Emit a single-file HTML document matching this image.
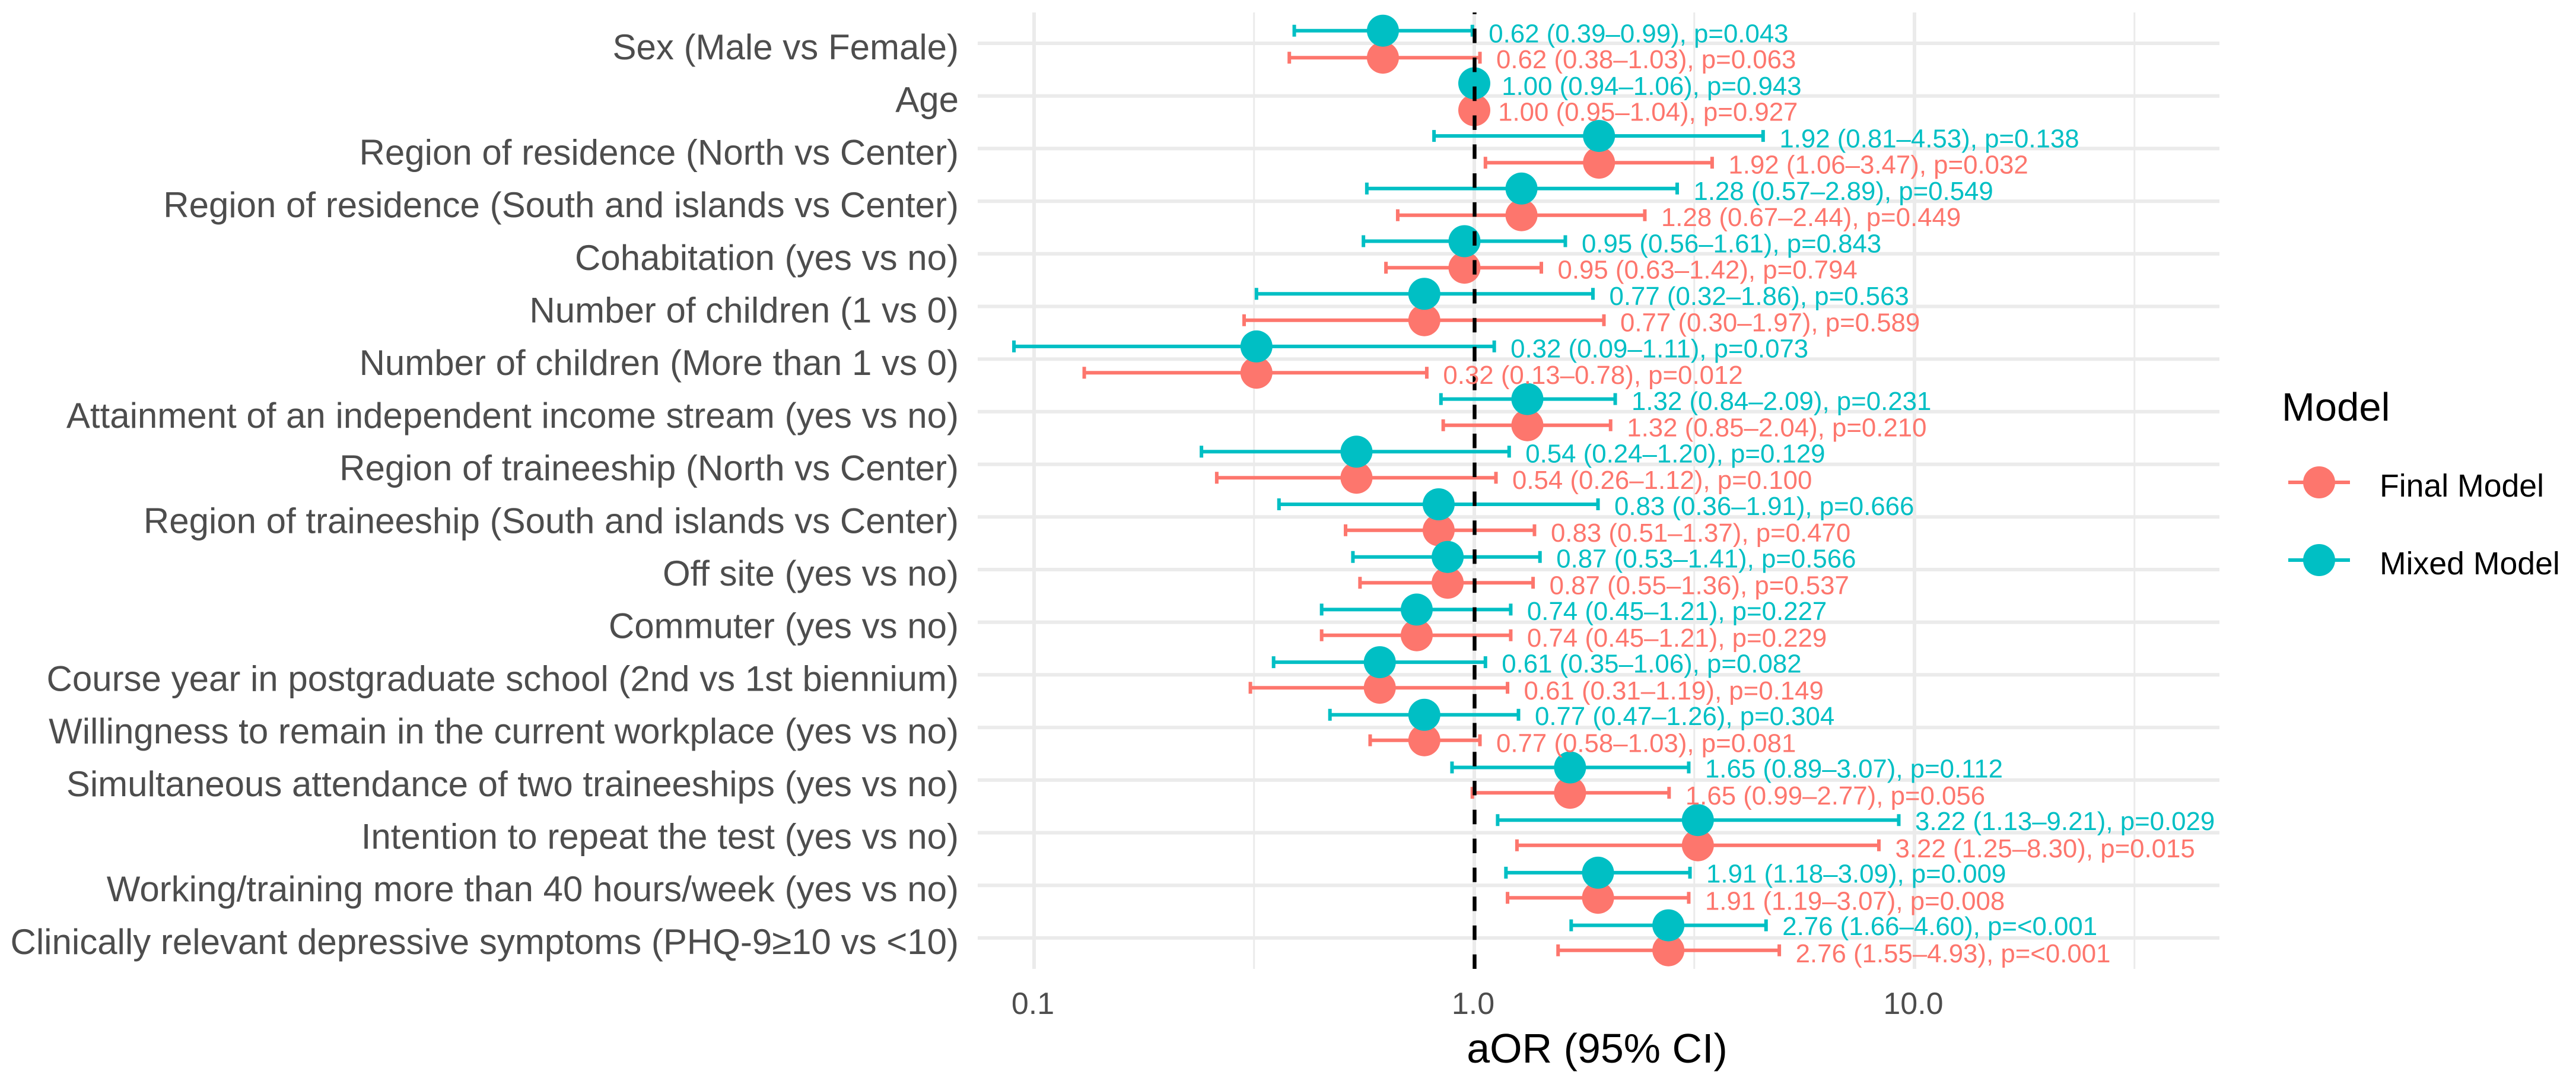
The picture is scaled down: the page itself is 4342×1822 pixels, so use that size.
<!DOCTYPE html>
<html lang="en">
<head>
<meta charset="utf-8">
<title>Forest plot of adjusted odds ratios</title>
<style>
html,body{margin:0;padding:0;background:#fff;width:4342px;height:1822px;overflow:hidden}
svg{display:block}
text{font-family:"Liberation Sans",Arial,sans-serif}
</style>
</head>
<body>
<svg id="chart" xmlns="http://www.w3.org/2000/svg" width="4342" height="1822" viewBox="0 0 4342 1822"></svg>
<script>
const categories = [
  'Sex (Male vs Female)',
  'Age',
  'Region of residence (North vs Center)',
  'Region of residence (South and islands vs Center)',
  'Cohabitation (yes vs no)',
  'Number of children (1 vs 0)',
  'Number of children (More than 1 vs 0)',
  'Attainment of an independent income stream (yes vs no)',
  'Region of traineeship (North vs Center)',
  'Region of traineeship (South and islands vs Center)',
  'Off site (yes vs no)',
  'Commuter (yes vs no)',
  'Course year in postgraduate school (2nd vs 1st biennium)',
  'Willingness to remain in the current workplace (yes vs no)',
  'Simultaneous attendance of two traineeships (yes vs no)',
  'Intention to repeat the test (yes vs no)',
  'Working/training more than 40 hours/week (yes vs no)',
  'Clinically relevant depressive symptoms (PHQ-9\u226510 vs <10)'
];
const mixedOR    = [0.62,1.00,1.92,1.28,0.95,0.77,0.32,1.32,0.54,0.83,0.87,0.74,0.61,0.77,1.65,3.22,1.91,2.76];
const mixedLower = [0.39,0.94,0.81,0.57,0.56,0.32,0.09,0.84,0.24,0.36,0.53,0.45,0.35,0.47,0.89,1.13,1.18,1.66];
const mixedUpper = [0.99,1.06,4.53,2.89,1.61,1.86,1.11,2.09,1.20,1.91,1.41,1.21,1.06,1.26,3.07,9.21,3.09,4.60];
const mixedP     = ['0.043','0.943','0.138','0.549','0.843','0.563','0.073','0.231','0.129','0.666','0.566','0.227','0.082','0.304','0.112','0.029','0.009','<0.001'];
const finalOR    = [0.62,1.00,1.92,1.28,0.95,0.77,0.32,1.32,0.54,0.83,0.87,0.74,0.61,0.77,1.65,3.22,1.91,2.76];
const finalLower = [0.38,0.95,1.06,0.67,0.63,0.30,0.13,0.85,0.26,0.51,0.55,0.45,0.31,0.58,0.99,1.25,1.19,1.55];
const finalUpper = [1.03,1.04,3.47,2.44,1.42,1.97,0.78,2.04,1.12,1.37,1.36,1.21,1.19,1.03,2.77,8.30,3.07,4.93];
const finalP     = ['0.063','0.927','0.032','0.449','0.794','0.589','0.012','0.210','0.100','0.470','0.537','0.229','0.149','0.081','0.056','0.015','0.008','<0.001'];
const majorBreaks = [0.1,1,10];
const minorBreaks = [0.316,3.16,31.6];
const tickLabels  = ['0.1','1.0','10.0'];
const referenceValue = 1;

const NS = 'http://www.w3.org/2000/svg';
const svg = document.getElementById('chart');
const TEAL = '#00BFC4', RED = '#FD766D', GRID = '#EBEBEB', AXIS = '#4D4D4D';
const panel = {left:1648, right:3741, top:21, bottom:1633};

function xScale(v){ return 2485 + 742 * Math.log10(v); }
function rowY(i){ return 73 + 88.7 * i; }
function mixedY(i){ return 51.7 + 88.7 * i; }
function finalY(i){ return 97.2 + 88.5 * i; }
function mixedLabelY(i){ return 71.7 + 88.5 * i; }
function finalLabelY(i){ return 115 + 88.65 * i; }

function mk(tag, attrs, parent){
  const e = document.createElementNS(NS, tag);
  for (const k in attrs) e.setAttribute(k, attrs[k]);
  (parent || svg).appendChild(e);
  return e;
}

/* gridlines */
const gridGroup = mk('g', {});


minorBreaks.forEach(function(b){
  const el = mk('line', {x1:xScale(b), x2:xScale(b), y1:panel.top, y2:panel.bottom, stroke:GRID, 'stroke-width':3}, gridGroup);
  
  
});
majorBreaks.forEach(function(b){
  const el = mk('line', {x1:xScale(b), x2:xScale(b), y1:panel.top, y2:panel.bottom, stroke:GRID, 'stroke-width':6}, gridGroup);
  
  
});
categories.forEach(function(c, i){
  const el = mk('line', {x1:panel.left, x2:panel.right, y1:rowY(i), y2:rowY(i), stroke:GRID, 'stroke-width':6}, gridGroup);
  
  
});

/* y axis labels */
categories.forEach(function(c, i){
  const t = mk('text', {x:1616, y:rowY(i) + 27, 'text-anchor':'end', 'font-size':60, fill:AXIS});
  t.textContent = c;
  
  
});

/* x axis labels */
majorBreaks.forEach(function(b, i){
  const t = mk('text', {x:xScale(b) - 2, y:1709, 'text-anchor':'middle', 'font-size':52, fill:AXIS});
  t.textContent = tickLabels[i];
  
  
});
const xTitle = mk('text', {x:2692, y:1791, 'text-anchor':'middle', 'font-size':70, fill:'#000'});
xTitle.textContent = 'aOR (95% CI)';



/* series: error bars + points */
function drawMarks(name, color, or, lo, hi, yFn){
  const g = mk('g', {});
  
  
  or.forEach(function(v, i){
    const y = yFn(i), xl = xScale(lo[i]), xh = xScale(hi[i]);
    const bar = mk('path', {d:'M'+xl+' '+(y-10)+'V'+(y+10)+'M'+xl+' '+y+'H'+xh+'M'+xh+' '+(y-10)+'V'+(y+10), fill:'none', stroke:color, 'stroke-width':6}, g);
    
    
  });
  or.forEach(function(v, i){
    const pt = mk('circle', {cx:xScale(v), cy:yFn(i), r:27, fill:color}, g);
    
    
  });
}
drawMarks('final-model', RED, finalOR, finalLower, finalUpper, finalY);
drawMarks('mixed-model', TEAL, mixedOR, mixedLower, mixedUpper, mixedY);

/* reference line */
const refLine = mk('line', {x1:xScale(referenceValue) + 0.5, x2:xScale(referenceValue) + 0.5, y1:panel.bottom, y2:panel.top, stroke:'#000', 'stroke-width':6.4, 'stroke-dasharray':'24.4 24.36'});



/* printed values */
function drawLabels(name, color, or, lo, hi, p, yFn){
  or.forEach(function(v, i){
    const t = mk('text', {x:xScale(hi[i]) + 27.5, y:yFn(i), 'font-size':43.8, fill:color});
    t.textContent = v.toFixed(2) + ' (' + lo[i].toFixed(2) + '\u2013' + hi[i].toFixed(2) + '), p=' + p[i];
    
    
  });
}
drawLabels('final-model', RED, finalOR, finalLower, finalUpper, finalP, finalLabelY);
drawLabels('mixed-model', TEAL, mixedOR, mixedLower, mixedUpper, mixedP, mixedLabelY);

/* legend */
const legend = mk('g', {});


const legendTitle = mk('text', {x:3846, y:709, 'font-size':67, fill:'#000'}, legend);
legendTitle.textContent = 'Model';



const finalKeyLine = mk('line', {x1:3857, x2:3961, y1:813, y2:813, stroke:RED, 'stroke-width':6}, legend);


const finalKeyDot = mk('circle', {cx:3909, cy:813, r:27, fill:RED}, legend);


const finalKeyText = mk('text', {x:4011, y:837, 'font-size':53.6, fill:'#000'}, legend);
finalKeyText.textContent = 'Final Model';



const mixedKeyLine = mk('line', {x1:3857, x2:3961, y1:944, y2:944, stroke:TEAL, 'stroke-width':6}, legend);


const mixedKeyDot = mk('circle', {cx:3909, cy:944, r:27, fill:TEAL}, legend);


const mixedKeyText = mk('text', {x:4011, y:968, 'font-size':53.6, fill:'#000'}, legend);
mixedKeyText.textContent = 'Mixed Model';


</script>
</body>
</html>
